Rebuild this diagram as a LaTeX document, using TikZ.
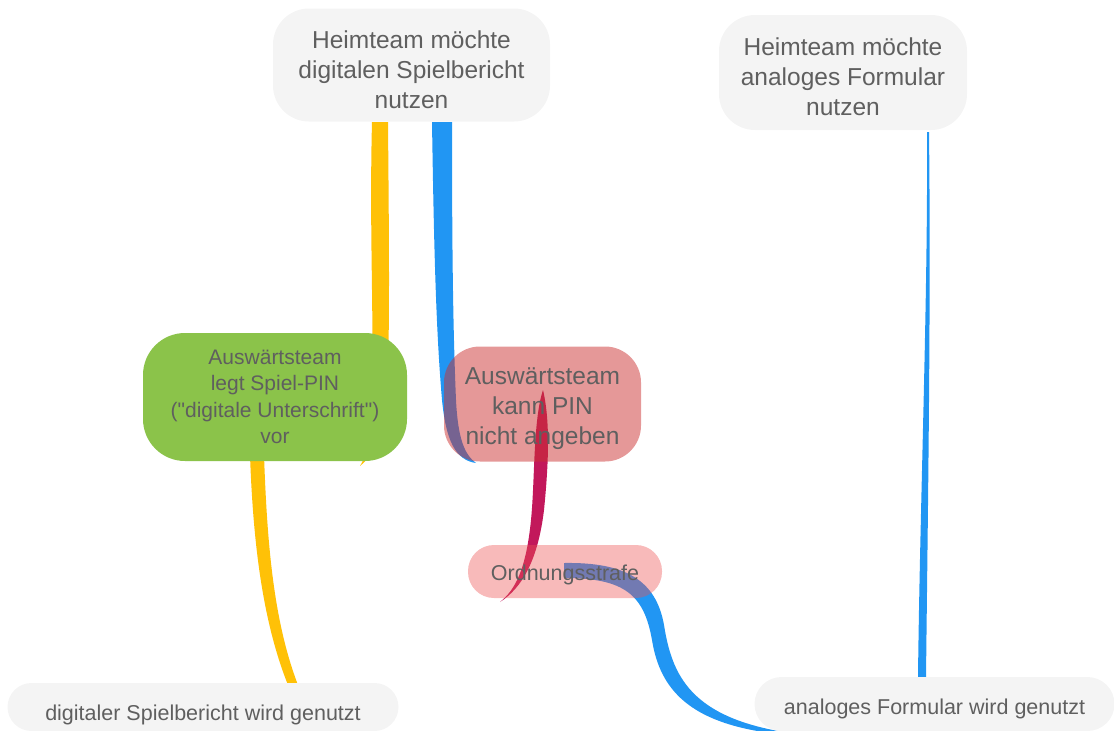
\documentclass[tikz,border=0pt]{standalone}
\usepackage{fontspec}
\setmainfont{Liberation Sans}[Ligatures=TeXOff]
\usetikzlibrary{calc}
\definecolor{txt}{RGB}{95,95,95}
\definecolor{greybox}{RGB}{244,244,244}
\definecolor{ygold}{RGB}{255,193,7}
\definecolor{mblue}{RGB}{33,150,243}
\definecolor{mgreen}{RGB}{139,195,74}
\definecolor{mcrim}{RGB}{194,24,91}
\definecolor{redbox}{RGB}{203,49,49}
\definecolor{pinkbox}{RGB}{237,82,82}
\newcommand\fbig{\fontsize{24.5}{30}\selectfont}
\newcommand\fmid{\fontsize{21}{26.5}\selectfont}
\newcommand\fsml{\fontsize{21.5}{26}\selectfont}
\begin{document}
\begin{tikzpicture}[x=1pt,y=-1pt,
  bubble/.style={inner sep=0pt},
  greyb/.style={bubble, fill=greybox},
  txtlab/.style={align=center, inner sep=0pt, text=txt}]
\useasboundingbox (0,0) rectangle (1114,731);
% ---- node geometry (shapes drawn after the ribbons) ----
\path
  (411.5,65) coordinate (ctop1)
  (843,72.5) coordinate (ctop2)
  (275,397) coordinate (cgreen)
  (542.5,404) coordinate (cred)
  (565,571.5) coordinate (cord)
  (203,707) coordinate (cbl)
  (934.5,704) coordinate (cbr);
% ---- ribbons ----
\fill[ygold]
  ($(ctop1)+(-39.5,57)$) .. controls (369,240) and (375,330) .. (371,410)
  .. controls (369,440) and (366,457) .. ($(cgreen)+(85,69)$)
  .. controls (377,452) and (385,430) .. (387,400)
  .. controls (390,330) and (389,240) .. ($(ctop1)+(-23.5,57)$) -- cycle;
\fill[ygold]
  ($(cgreen)+(-25,58)$) .. controls (253,540) and (262,620) .. ($(cbl)+(85,-22)$)
  -- ($(cbl)+(95,-22)$) .. controls (273,620) and (267,540) .. ($(cgreen)+(-11,58)$) -- cycle;
\fill[mblue]
  ($(ctop1)+(20.5,57)$) .. controls (434,250) and (436,330) .. (442,400)
  .. controls (446,440) and (455,460) .. ($(cred)+(-66.5,59)$)
  .. controls (465,455) and (458,440) .. (456,400)
  .. controls (453,330) and (452,250) .. ($(ctop1)+(40.5,57)$) -- cycle;
\fill[mcrim]
  ($(cred)+(0.5,-14)$) .. controls (533,420) and (535,480) .. (531,520)
  .. controls (526,570) and (515,590) .. ($(cord)+(-65,30.5)$)
  .. controls (522,588) and (538,560) .. (544,510)
  .. controls (549,460) and (550,420) .. ($(cred)+(0.5,-14)$) -- cycle;
\fill[mblue]
  ($(cord)+(-1,-8.5)$) .. controls (625,562) and (656,580) .. (664,625)
  .. controls (672,675) and (690,718) .. ($(cbr)+(-144.5,29)$)
  -- ($(cbr)+(-164.5,29)$) .. controls (690,722) and (660,690) .. (652,640)
  .. controls (644,595) and (625,578) .. ($(cord)+(-1,6.5)$) -- cycle;
\fill[mblue]
  ($(ctop2)+(84,59.5)$) .. controls (928,300) and (920,500) .. ($(cbr)+(-16.5,-27)$)
  -- ($(cbr)+(-8.5,-27)$) .. controls (928,500) and (931,300) .. ($(ctop2)+(86,59.5)$) -- cycle;
% ---- nodes ----
\node[greyb, rounded corners=36pt, minimum width=277pt, minimum height=113pt,
  label={[txtlab, font=\fbig, yshift=-5pt]center:{Heimteam möchte\\digitalen Spielbericht\\nutzen}}]
  (top1) at (ctop1) {};
\node[greyb, rounded corners=36pt, minimum width=248pt, minimum height=115pt,
  label={[txtlab, font=\fbig, yshift=-4pt]center:{Heimteam möchte\\analoges Formular\\nutzen}}]
  (top2) at (ctop2) {};
\node[bubble, fill=mgreen, rounded corners=42pt, minimum width=264pt, minimum height=128pt,
  label={[txtlab, font=\fmid]center:{Auswärtsteam\\legt Spiel-PIN\\("digitale Unterschrift")\\vor}}]
  (green) at (cgreen) {};
\node[bubble, fill=redbox, fill opacity=0.5, rounded corners=36pt,
  minimum width=197pt, minimum height=115pt,
  label={[txtlab, font=\fbig, yshift=-5pt]center:{Auswärtsteam\\kann PIN\\nicht angeben}}]
  (red) at (cred) {};
\node[bubble, fill=pinkbox, fill opacity=0.4, rounded corners=26pt,
  minimum width=194pt, minimum height=53pt,
  label={[txtlab, font=\fsml, yshift=-3pt]center:{Ordnungsstrafe}}]
  (ord) at (cord) {};
\node[greyb, rounded corners=24pt, minimum width=391pt, minimum height=48pt,
  label={[txtlab, font=\fsml, yshift=-8pt]center:{digitaler Spielbericht wird genutzt}}]
  (bl) at (cbl) {};
\node[greyb, rounded corners=27pt, minimum width=360pt, minimum height=54pt,
  label={[txtlab, font=\fsml, yshift=-5pt]center:{analoges Formular wird genutzt}}]
  (br) at (cbr) {};
\end{tikzpicture}
\end{document}
